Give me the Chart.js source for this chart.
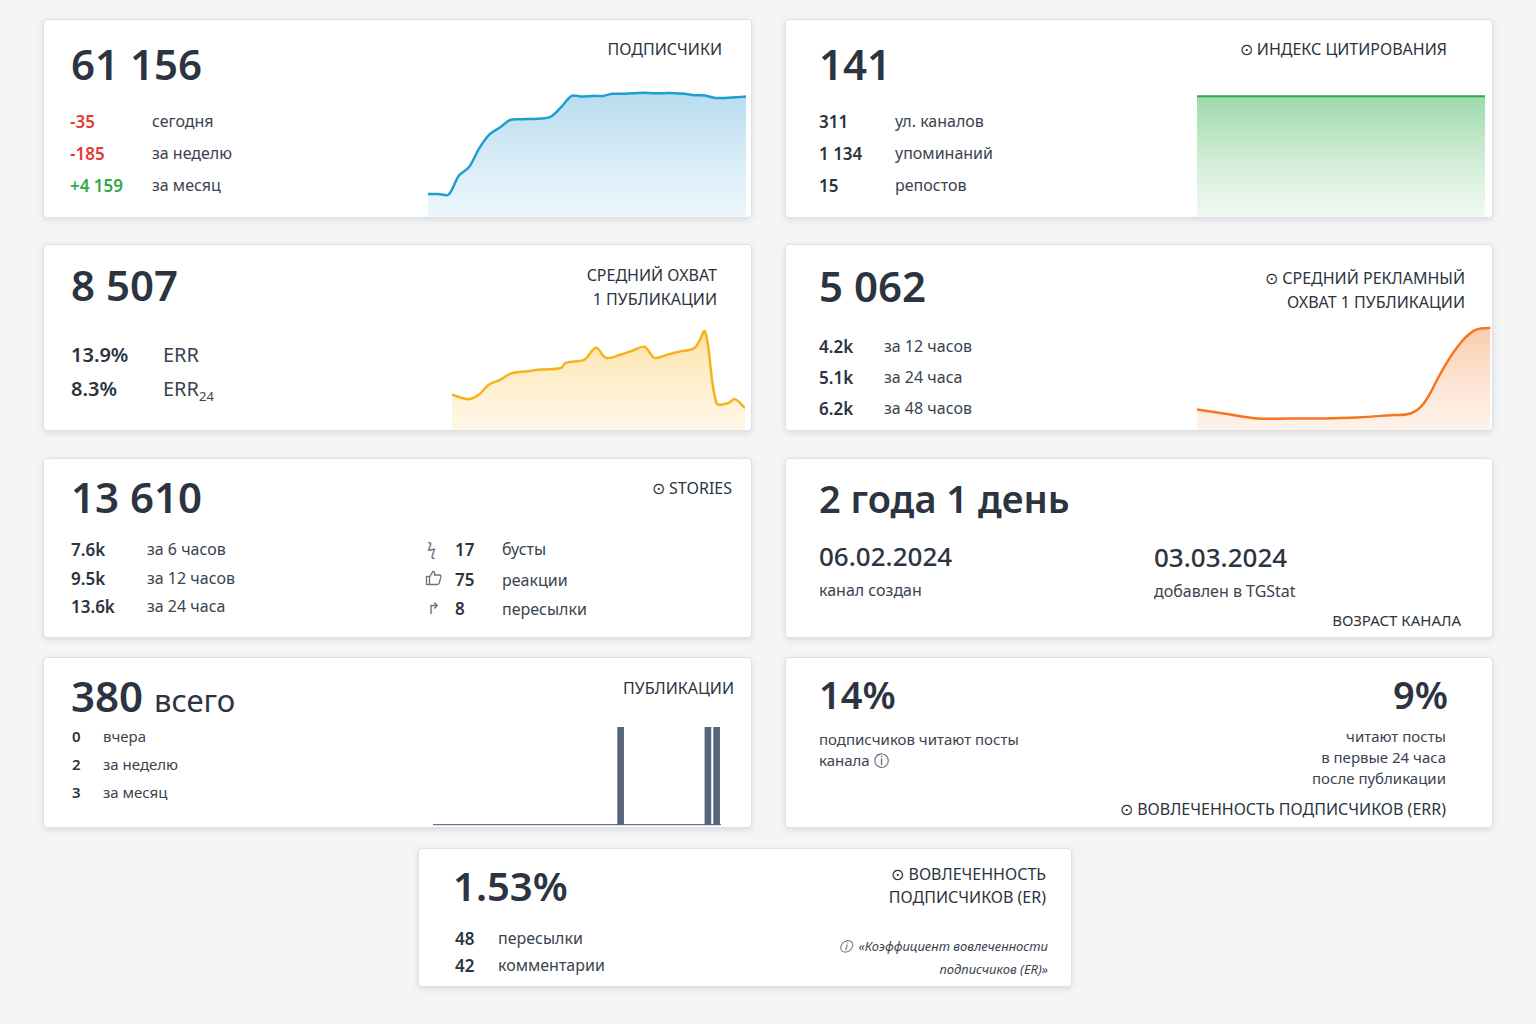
<!DOCTYPE html>
<html>
<head>
<meta charset="utf-8">
<script src="https://cdn.jsdelivr.net/npm/chart.js@4.4.1/dist/chart.umd.min.js"></script>
<style>
  body { margin: 0; width: 1536px; height: 1024px; background: #f3f5f7; font-family: "Noto Sans", sans-serif; color: #2b3440; position: relative; overflow: hidden; }
  .card { position: absolute; background: #fff; border: 1px solid #dde1e6; border-radius: 4px; box-shadow: 0 2px 6px rgba(40,50,60,0.12); overflow: hidden; }
  .t { position: absolute; white-space: nowrap; line-height: 1; }
  .big { font-size: 42px; font-weight: 600; color: #2b3440; }
  .ttl { font-size: 16px; text-align: right; color: #2b3440; line-height: 24px; }
  .row { font-size: 16px; color: #3a4350; }
  .num { font-size: 17px; font-weight: 600; }
  .chart { position: absolute; }
</style>
</head>
<body>

<!-- ПОДПИСЧИКИ -->
<div class="card" style="left:43px;top:19px;width:707px;height:197px"></div>
<div class="t big" style="left:71px;top:43px">61 156</div>
<div class="t ttl" style="right:814px;top:37px">ПОДПИСЧИКИ</div>
<div class="t num" style="left:70px;top:113px;color:#e53935">-35</div>
<div class="t row" style="left:152px;top:113px">сегодня</div>
<div class="t num" style="left:70px;top:145px;color:#e53935">-185</div>
<div class="t row" style="left:152px;top:145px">за неделю</div>
<div class="t num" style="left:70px;top:177px;color:#2eaa4a">+4 159</div>
<div class="t row" style="left:152px;top:177px">за месяц</div>
<div class="chart" style="left:428px;top:89px;width:318px;height:128px"><canvas id="subsChart"></canvas></div>

<!-- ИНДЕКС ЦИТИРОВАНИЯ -->
<div class="card" style="left:785px;top:19px;width:706px;height:197px"></div>
<div class="t big" style="left:819px;top:43px">141</div>
<div class="t ttl" style="right:89px;top:37px">⊙ ИНДЕКС ЦИТИРОВАНИЯ</div>
<div class="t num" style="left:819px;top:113px">311</div>
<div class="t row" style="left:895px;top:113px">ул. каналов</div>
<div class="t num" style="left:819px;top:145px">1 134</div>
<div class="t row" style="left:895px;top:145px">упоминаний</div>
<div class="t num" style="left:819px;top:177px">15</div>
<div class="t row" style="left:895px;top:177px">репостов</div>
<div class="chart" style="left:1197px;top:95px;width:288px;height:122px"><canvas id="citeChart"></canvas></div>

<!-- СРЕДНИЙ ОХВАТ -->
<div class="card" style="left:43px;top:244px;width:707px;height:185px"></div>
<div class="t big" style="left:71px;top:264px">8 507</div>
<div class="t ttl" style="right:819px;top:263px">СРЕДНИЙ ОХВАТ<br>1 ПУБЛИКАЦИИ</div>
<div class="t" style="left:71px;top:345px;font-size:20px;font-weight:600">13.9%</div>
<div class="t" style="left:163px;top:345px;font-size:20px;color:#3a4350">ERR</div>
<div class="t" style="left:71px;top:379px;font-size:20px;font-weight:600">8.3%</div>
<div class="t" style="left:163px;top:379px;font-size:20px;color:#3a4350">ERR<sub style="font-size:13px">24</sub></div>
<div class="chart" style="left:452px;top:330px;width:293px;height:100px"><canvas id="reachChart"></canvas></div>

<!-- СРЕДНИЙ РЕКЛАМНЫЙ ОХВАТ -->
<div class="card" style="left:785px;top:244px;width:706px;height:185px"></div>
<div class="t big" style="left:819px;top:265px">5 062</div>
<div class="t ttl" style="right:71px;top:266px">⊙ СРЕДНИЙ РЕКЛАМНЫЙ<br>ОХВАТ 1 ПУБЛИКАЦИИ</div>
<div class="t num" style="left:819px;top:338px">4.2k</div>
<div class="t row" style="left:884px;top:338px">за 12 часов</div>
<div class="t num" style="left:819px;top:369px">5.1k</div>
<div class="t row" style="left:884px;top:369px">за 24 часа</div>
<div class="t num" style="left:819px;top:400px">6.2k</div>
<div class="t row" style="left:884px;top:400px">за 48 часов</div>
<div class="chart" style="left:1197px;top:325px;width:295px;height:105px"><canvas id="adChart"></canvas></div>

<!-- STORIES -->
<div class="card" style="left:43px;top:458px;width:707px;height:178px"></div>
<div class="t big" style="left:71px;top:476px">13 610</div>
<div class="t ttl" style="right:804px;top:476px">⊙ STORIES</div>
<div class="t num" style="left:71px;top:541px">7.6k</div>
<div class="t row" style="left:147px;top:541px">за 6 часов</div>
<div class="t num" style="left:71px;top:570px">9.5k</div>
<div class="t row" style="left:147px;top:570px">за 12 часов</div>
<div class="t num" style="left:71px;top:598px">13.6k</div>
<div class="t row" style="left:147px;top:598px">за 24 часа</div>
<div class="t row" style="left:427px;top:541px;color:#6a7380">ϟ</div>
<div class="t num" style="left:455px;top:541px">17</div>
<div class="t row" style="left:502px;top:541px">бусты</div>
<svg style="position:absolute;left:425px;top:569px" width="18" height="18" viewBox="0 0 18 18" fill="none" stroke="#6a7380" stroke-width="1.3"><rect x="1.5" y="7.5" width="3" height="8"/><path d="M4.5 8 L8 2.5 C9.5 2.5 10 3.5 9.5 6 L14.5 6 C16 6 16.2 7.5 15.8 8.5 L14 14.5 C13.7 15.3 13 15.5 12 15.5 L4.5 15.5"/></svg>
<div class="t num" style="left:455px;top:571px">75</div>
<div class="t row" style="left:502px;top:572px">реакции</div>
<div class="t row" style="left:427px;top:600px;color:#6a7380">↱</div>
<div class="t num" style="left:455px;top:600px">8</div>
<div class="t row" style="left:502px;top:601px">пересылки</div>

<!-- ВОЗРАСТ КАНАЛА -->
<div class="card" style="left:785px;top:458px;width:706px;height:178px"></div>
<div class="t" style="left:819px;top:479px;font-size:38px;font-weight:600">2 года 1 день</div>
<div class="t" style="left:819px;top:543px;font-size:26px;font-weight:500">06.02.2024</div>
<div class="t row" style="left:819px;top:582px">канал создан</div>
<div class="t" style="left:1154px;top:544px;font-size:26px;font-weight:500">03.03.2024</div>
<div class="t row" style="left:1154px;top:583px">добавлен в TGStat</div>
<div class="t" style="right:75px;top:613px;font-size:15px">ВОЗРАСТ КАНАЛА</div>

<!-- ПУБЛИКАЦИИ -->
<div class="card" style="left:43px;top:657px;width:707px;height:169px"></div>
<div class="t" style="left:71px;top:675px;font-size:42px;font-weight:600">380 <span style="font-size:31px;font-weight:400">всего</span></div>
<div class="t ttl" style="right:802px;top:676px">ПУБЛИКАЦИИ</div>
<div class="t num" style="left:72px;top:729px;font-size:15px">0</div>
<div class="t row" style="left:103px;top:729px;font-size:15px">вчера</div>
<div class="t num" style="left:72px;top:757px;font-size:15px">2</div>
<div class="t row" style="left:103px;top:757px;font-size:15px">за неделю</div>
<div class="t num" style="left:72px;top:785px;font-size:15px">3</div>
<div class="t row" style="left:103px;top:785px;font-size:15px">за месяц</div>
<div class="chart" style="left:433px;top:727px;width:288px;height:106px"><canvas id="postsChart"></canvas></div>

<!-- ERR -->
<div class="card" style="left:785px;top:657px;width:706px;height:169px"></div>
<div class="t big" style="left:819px;top:675px;font-size:38px">14%</div>
<div class="t" style="left:819px;top:729px;font-size:15px;line-height:21px;color:#3a4350">подписчиков читают посты<br>канала ⓘ</div>
<div class="t big" style="right:88px;top:675px;font-size:38px">9%</div>
<div class="t" style="right:90px;top:726px;font-size:15px;line-height:21px;text-align:right;color:#3a4350">читают посты<br>в первые 24 часа<br>после публикации</div>
<div class="t ttl" style="right:90px;top:797px">⊙ ВОВЛЕЧЕННОСТЬ ПОДПИСЧИКОВ (ERR)</div>

<!-- ER -->
<div class="card" style="left:418px;top:848px;width:652px;height:137px"></div>
<div class="t big" style="left:453px;top:866px;font-size:40px">1.53%</div>
<div class="t num" style="left:455px;top:930px">48</div>
<div class="t row" style="left:498px;top:930px">пересылки</div>
<div class="t num" style="left:455px;top:957px">42</div>
<div class="t row" style="left:498px;top:957px">комментарии</div>
<div class="t ttl" style="right:490px;top:863px;line-height:23px">⊙ ВОВЛЕЧЕННОСТЬ<br>ПОДПИСЧИКОВ (ER)</div>
<div class="t" style="right:488px;top:935px;font-size:13px;font-style:italic;line-height:23px;text-align:right;color:#3a4350">ⓘ &nbsp;«Коэффициент вовлеченности<br>подписчиков (ER)»</div>

<script>
// SUBSCRIBERS LINE (relative units)
const subsValues = [67,67,65,120,145,200,240,260,282,284,285,286,292,320,352,350,352,352,358,358,360,361,360,360,360,358,354,353,346,346,348,350]
// CITATION INDEX
const citeValues = [100,100,100,100,100,100]
// AVERAGE REACH (x position, value)
const reachX = [35,85,115,145,180,210,260,300,360,375,430,465,495,540,570,610,640,680,720,760,790,825,860,880,910]
const reachValues = [105,92,105,135,150,168,175,180,185,200,210,245,215,225,235,248,215,225,235,245,295,80,80,92,65]
// AD REACH
const adX = [20,100,200,300,400,500,600,660,700,750,800,850,900]
const adValues = [62,50,35,35,35,38,45,50,80,170,250,300,310]
// PUBLICATIONS PER DAY
const postDays = Array.from({length: 33}, (_, i) => String(i + 1))
const postValues = [0,0,0,0,0,0,0,0,0,0,0,0,0,0,0,0,0,0,0,0,0,1,0,0,0,0,0,0,0,0,0,1,1]

function gradient(top, bottom) {
  return (ctx) => {
    const area = ctx.chart.chartArea
    if (!area) return top
    const g = ctx.chart.ctx.createLinearGradient(0, area.top, 0, area.bottom)
    g.addColorStop(0, top)
    g.addColorStop(1, bottom)
    return g
  }
}

const hiddenScales = (xType, yMax, xMin, xMax) => ({
  x: { type: xType, display: false, min: xMin, max: xMax },
  y: { display: false, min: 0, max: yMax }
})
const base = {
  responsive: true,
  maintainAspectRatio: false,
  animation: false,
  plugins: { legend: { display: false }, tooltip: { enabled: false } },
  layout: { padding: 0 },
  elements: { point: { radius: 0 } }
}

new Chart(document.getElementById('subsChart'), {
  type: 'line',
  data: {
    labels: subsValues.map((_, i) => i),
    datasets: [{ data: subsValues, borderColor: '#1e9fcf', borderWidth: 2.5, tension: 0.3, fill: true,
      backgroundColor: gradient('rgba(120,190,225,0.55)', 'rgba(200,230,245,0.35)') }]
  },
  options: { ...base, scales: hiddenScales('category', 372) }
})

new Chart(document.getElementById('citeChart'), {
  type: 'line',
  data: {
    labels: citeValues.map((_, i) => i),
    datasets: [{ data: citeValues, borderColor: '#2eaa4a', borderWidth: 2, fill: true,
      backgroundColor: gradient('rgba(110,200,130,0.7)', 'rgba(200,235,205,0.3)') }]
  },
  options: { ...base, scales: hiddenScales('category', 101) }
})

new Chart(document.getElementById('reachChart'), {
  type: 'line',
  data: {
    datasets: [{ data: reachX.map((x, i) => ({ x, y: reachValues[i] })), borderColor: '#f7b21b', borderWidth: 2.5, tension: 0.35, fill: true,
      backgroundColor: gradient('rgba(250,200,90,0.55)', 'rgba(255,235,190,0.35)') }]
  },
  options: { ...base, scales: hiddenScales('linear', 298, 35, 910) }
})

new Chart(document.getElementById('adChart'), {
  type: 'line',
  data: {
    datasets: [{ data: adX.map((x, i) => ({ x, y: adValues[i] })), borderColor: '#f7751e', borderWidth: 2.5, tension: 0.4, fill: true,
      backgroundColor: gradient('rgba(247,160,100,0.55)', 'rgba(252,220,195,0.35)') }]
  },
  options: { ...base, scales: hiddenScales('linear', 318, 20, 905) }
})

new Chart(document.getElementById('postsChart'), {
  type: 'bar',
  data: {
    labels: postDays,
    datasets: [{ data: postValues, backgroundColor: '#56657a', barThickness: 6 }]
  },
  options: {
    ...base,
    scales: {
      x: { display: true, ticks: { display: false }, grid: { display: false },
        border: { display: true, color: '#6f7a88', dash: [5, 4], width: 1.3 } },
      y: { display: false, min: 0, max: 1 }
    }
  }
})
</script>
</body>
</html>
